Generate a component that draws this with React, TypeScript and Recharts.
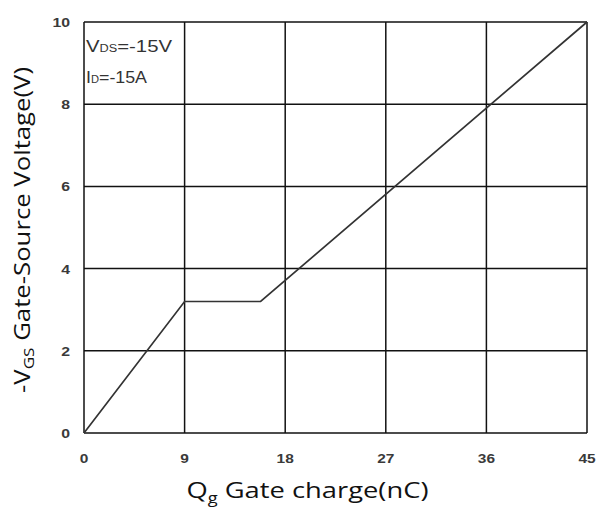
import React from "react"
import { LineChart, Line, XAxis, YAxis, CartesianGrid, Label } from "recharts"

// gate charge curve
const qg = [0, 9, 15.8, 45]
const vgs = [0, 3.2, 3.2, 10]
const xTicks = [0, 9, 18, 27, 36, 45]
const yTicks = [0, 2, 4, 6, 8, 10]

const data = qg.map((q, i) => ({ q, v: vgs[i] }))

const TICK_COLOR = "#3a3a3a"

function XTick(props: any) {
  const { x, y, payload } = props
  const s = String(payload.value)
  return (
    <text
      x={x}
      y={y + 22}
      textAnchor="middle"
      fontFamily="Liberation Sans, Arial, sans-serif"
      fontSize={13}
      fontWeight="bold"
      fill={TICK_COLOR}
      textLength={s.length * 8.6}
      lengthAdjust="spacingAndGlyphs"
    >
      {s}
    </text>
  )
}

function YTick(props: any) {
  const { x, y, payload } = props
  const s = String(payload.value)
  return (
    <text
      x={x}
      y={y + 5}
      textAnchor="end"
      fontFamily="Liberation Sans, Arial, sans-serif"
      fontSize={13}
      fontWeight="bold"
      fill={TICK_COLOR}
      textLength={s.length * 8.8}
      lengthAdjust="spacingAndGlyphs"
    >
      {s}
    </text>
  )
}

function XTitle(props: any) {
  const vb = props.viewBox
  const cx = vb.x + vb.width / 2 - 28
  return (
    <text
      x={cx}
      y={498}
      textAnchor="middle"
      fontFamily="Open Sans, sans-serif"
      fontSize={21}
      fill="#111"
      textLength={242}
      lengthAdjust="spacingAndGlyphs"
    >
      Q<tspan fontSize={14} dy={5}>g</tspan>
      <tspan dy={-5}> Gate charge(nC)</tspan>
    </text>
  )
}

function YTitle() {
  const cx = 30
  const cy = 230
  return (
    <text
      x={cx}
      y={cy}
      transform={`rotate(-90 ${cx} ${cy})`}
      textAnchor="middle"
      fontFamily="Open Sans, sans-serif"
      fontSize={21}
      fill="#111"
      textLength={326}
      lengthAdjust="spacingAndGlyphs"
    >
      -V<tspan fontSize={14} dy={4}>GS</tspan>
      <tspan dy={-4}> Gate-Source Voltage(V)</tspan>
    </text>
  )
}

export default function App() {
  return (
    <div style={{ position: "fixed", left: 0, top: 0, width: 599, height: 508, background: "#fff" }}>
      <LineChart
        width={599}
        height={508}
        data={data}
        margin={{ top: 22, right: 12, bottom: 45, left: 0 }}
      >
        <CartesianGrid stroke="#111" strokeWidth={1.5} />
        <XAxis
          dataKey="q"
          type="number"
          domain={[0, 45]}
          ticks={xTicks}
          height={30}
          axisLine={false}
          tickLine={false}
          tick={<XTick />}
          interval={0}
        >
          <Label content={<XTitle />} />
        </XAxis>
        <YAxis
          type="number"
          domain={[0, 10]}
          ticks={yTicks}
          width={84}
          axisLine={false}
          tickLine={false}
          tickSize={0}
          tickMargin={14}
          tick={<YTick />}
          interval={0}
        >
          <Label content={<YTitle />} />
        </YAxis>
        <Line
          type="linear"
          dataKey="v"
          stroke="#333"
          strokeWidth={1.7}
          dot={false}
          activeDot={false}
          isAnimationActive={false}
        />
      </LineChart>
      <svg
        width={599}
        height={508}
        style={{ position: "absolute", left: 0, top: 0, pointerEvents: "none" }}
      >
        <text
          x={86}
          y={52}
          fontFamily="Liberation Sans, Arial, sans-serif"
          fontSize={16}
          fill="#333"
          textLength={86}
          lengthAdjust="spacingAndGlyphs"
        >
          V<tspan fontSize={10}>DS</tspan>
          <tspan>=-15V</tspan>
        </text>
        <text
          x={86}
          y={83}
          fontFamily="Liberation Sans, Arial, sans-serif"
          fontSize={16}
          fill="#333"
          textLength={61}
          lengthAdjust="spacingAndGlyphs"
        >
          I<tspan fontSize={10}>D</tspan>
          <tspan>=-15A</tspan>
        </text>
      </svg>
    </div>
  )
}
